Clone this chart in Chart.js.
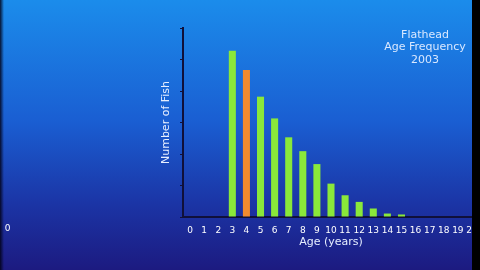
<!DOCTYPE html>
<html>
<head>
<meta charset="utf-8">
<script src="https://cdn.jsdelivr.net/npm/chart.js@4/dist/chart.umd.min.js"></script>
<style>
html,body{margin:0;padding:0;background:#1a3fb0;}
#wrap{width:480px;height:270px;position:relative;}
</style>
</head>
<body>
<div id="wrap"><canvas id="c" width="480" height="270"></canvas></div>
<script>
const ages = ["0","1","2","3","4","5","6","7","8","9","10","11","12","13","14","15","16","17","18","19","20"];
const fishCounts = [0,0,0,52.8,46.7,38.2,31.3,25.3,20.9,16.8,10.6,6.9,4.8,2.7,1.1,0.8,0,0,0,0,0];
const titleLines = ["Flathead","Age Frequency","2003"];
const xTitle = "Age (years)";
const yTitle = "Number of Fish";
const highlightAge = "4";

const GREEN = "#8ae83a";
const ORANGE = "#f28a2e";
const FONT = "'DejaVu Sans', sans-serif";

const bgPlugin = {
  id: 'bg',
  beforeDraw(chart) {
    const ctx = chart.ctx;
    const g = ctx.createLinearGradient(0, 0, 0, 270);
    g.addColorStop(0, '#1b8ceb');
    g.addColorStop(0.45, '#1a5ed2');
    g.addColorStop(0.75, '#1b35a6');
    g.addColorStop(1, '#1c1a80');
    ctx.save();
    ctx.fillStyle = g;
    ctx.fillRect(0, 0, 480, 270);
    ctx.restore();
  },
  afterDraw(chart) {
    const ctx = chart.ctx;
    ctx.save();
    ctx.fillStyle = '#d9e8ff';
    ctx.font = "11px " + FONT;
    ctx.textAlign = 'center';
    ctx.textBaseline = 'middle';
    titleLines.forEach((t, i) => ctx.fillText(t, 425, 35 + i * 12.5));
    // black strip on the right
    ctx.fillStyle = '#000000';
    ctx.fillRect(472, 0, 8, 270);
    // dark strip on the left
    const lg = ctx.createLinearGradient(0, 0, 4, 0);
    lg.addColorStop(0, 'rgba(0,0,20,0.85)');
    lg.addColorStop(1, 'rgba(0,0,20,0)');
    ctx.fillStyle = lg;
    ctx.fillRect(0, 0, 4, 270);
    ctx.fillStyle = '#ffffff';
    ctx.font = "9px " + FONT;
    ctx.fillText("0", 7.5, 229);
    ctx.restore();
  }
};

new Chart(document.getElementById('c'), {
  type: 'bar',
  data: {
    labels: ages,
    datasets: [{
      data: fishCounts,
      backgroundColor: (c) => ages[c.index] === highlightAge ? ORANGE : GREEN,
      borderWidth: 0,
      barPercentage: 0.5,
      categoryPercentage: 1.0
    }]
  },
  options: {
    responsive: false,
    animation: false,
    devicePixelRatio: 1,
    layout: { padding: { left: 156, right: 1, top: 28, bottom: 17 } },
    plugins: { legend: { display: false }, tooltip: { enabled: false } },
    scales: {
      x: {
        grid: { display: false },
        border: { display: true, color: '#10103a', width: 2 },
        ticks: { color: '#ffffff', font: { family: FONT, size: 9 }, padding: 0, maxRotation: 0, autoSkip: false },
        title: { display: true, text: xTitle, color: '#e6eeff', font: { family: FONT, size: 11 }, padding: { top: 2, bottom: 4 } },
        afterFit(s) { s.height = 36; }
      },
      y: {
        min: 0, max: 60,
        ticks: { display: false, stepSize: 10 },
        grid: { display: true, drawOnChartArea: false, drawTicks: true, tickLength: 3, color: '#10103a', lineWidth: 1 },
        border: { display: true, color: '#10103a', width: 2 },
        title: { display: true, text: yTitle, color: '#e6eeff', font: { family: FONT, size: 11 }, padding: { top: 4, bottom: 4 } },
        afterFit(s) { s.width = 27; }
      }
    }
  },
  plugins: [bgPlugin]
});
</script>
</body>
</html>
